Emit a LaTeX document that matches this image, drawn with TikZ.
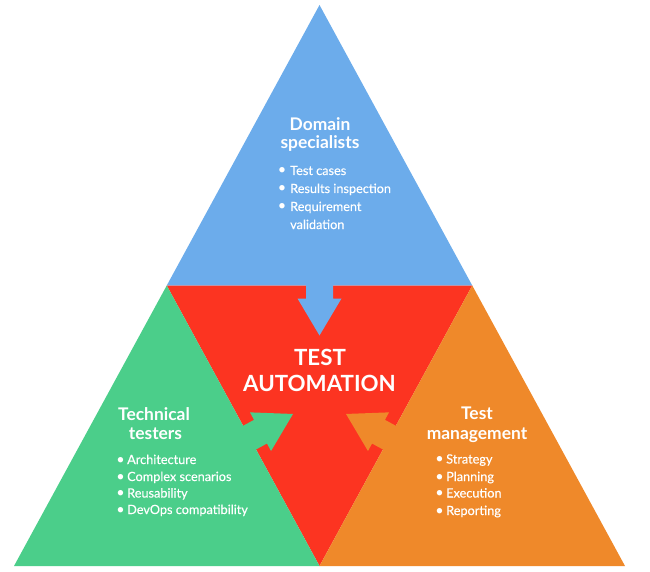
\documentclass[tikz,border=0pt]{standalone}
\usepackage{fontspec}
\setmainfont{Lato}
\newfontfamily\itemfont[FakeBold=0.25]{Lato}
\definecolor{cblue}{RGB}{108,172,235}
\definecolor{cred}{RGB}{252,52,33}
\definecolor{cgreen}{RGB}{75,206,138}
\definecolor{corange}{RGB}{239,137,42}
\tikzset{
  heading/.style={text=white, font=\fontsize{17.4}{20}\selectfont\bfseries, anchor=base, inner sep=0pt},
  title/.style={text=white, font=\fontsize{22.3}{27}\selectfont\bfseries, anchor=base, inner sep=0pt},
  item/.style={text=white, font=\itemfont\fontsize{12.7}{18}\selectfont, anchor=base west, inner sep=0pt},
  bul/.style={text=white, font=\fontsize{14.5}{18}\selectfont, anchor=base, inner sep=0pt},
  bigarrow/.pic={\fill (-3,-13.5) -- (13,-13.5) -- (13,-22) -- (50,0) -- (13,22) -- (13,13.5) -- (-3,13.5) -- cycle;}
}
\begin{document}
\begin{tikzpicture}[x=1pt,y=-1pt]
\useasboundingbox (0,0) rectangle (650,572);
\coordinate (A) at (319.5,5);
\coordinate (BL) at (14,566);
\coordinate (BR) at (625,566);
\coordinate (ML) at (166.75,285.5);
\coordinate (MR) at (472.25,285.5);
\coordinate (MB) at (319.5,566);
% regions
\fill[cblue] (A) -- (ML) -- (MR) -- cycle;
\fill[cred] (ML) -- (MR) -- (MB) -- cycle;
\fill[cgreen] (BL) -- (ML) -- (MB) -- cycle;
\fill[corange] (BR) -- (MR) -- (MB) -- cycle;
% arrows
\pic[cblue, rotate=-90] at (319.5,285.5) {bigarrow};
\pic[cgreen, rotate=28.6] at (249.1,437.9) {bigarrow};
\pic[corange, rotate=151.4] at (389.9,437.9) {bigarrow};
% title
\node[title] (t1) at (320,365) {TEST};
\node[title] (t2) at (319.5,391.7) {AUTOMATION};
% domain specialists
\node[heading] (d1) at (320,131) {Domain};
\node[heading] (d2) at (320,149) {specialists};
\node[bul] (db1) at (282,175) {•};
\node[item] (di1) at (290,175) {Test cases};
\node[bul] (db2) at (282,193) {•};
\node[item] (di2) at (290,193) {Results inspection};
\node[bul] (db3) at (282,211) {•};
\node[item] (di3) at (290,211) {Requirement};
\node[item] (di4) at (290,229) {validation};
% technical testers
\node[heading] (g1) at (154,420) {Technical};
\node[heading] (g2) at (155.5,439) {testers};
\node[bul] (gb1) at (120.5,464) {•};
\node[item] (gi1) at (127,464) {Architecture};
\node[bul] (gb2) at (120.5,481) {•};
\node[item] (gi2) at (127,481) {Complex scenarios};
\node[bul] (gb3) at (120.5,497.5) {•};
\node[item] (gi3) at (127,497.5) {Reusability};
\node[bul] (gb4) at (120.5,514) {•};
\node[item] (gi4) at (127,514) {DevOps compatibility};
% test management
\node[heading] (o1) at (477,419) {Test};
\node[heading] (o2) at (477,439) {management};
\node[bul] (ob1) at (439.5,463.5) {•};
\node[item] (oi1) at (446,463.5) {Strategy};
\node[bul] (ob2) at (439.5,481) {•};
\node[item] (oi2) at (446,481) {Planning};
\node[bul] (ob3) at (439.5,497.5) {•};
\node[item] (oi3) at (446,497.5) {Execution};
\node[bul] (ob4) at (439.5,515) {•};
\node[item] (oi4) at (446,515) {Reporting};
\end{tikzpicture}
\end{document}
